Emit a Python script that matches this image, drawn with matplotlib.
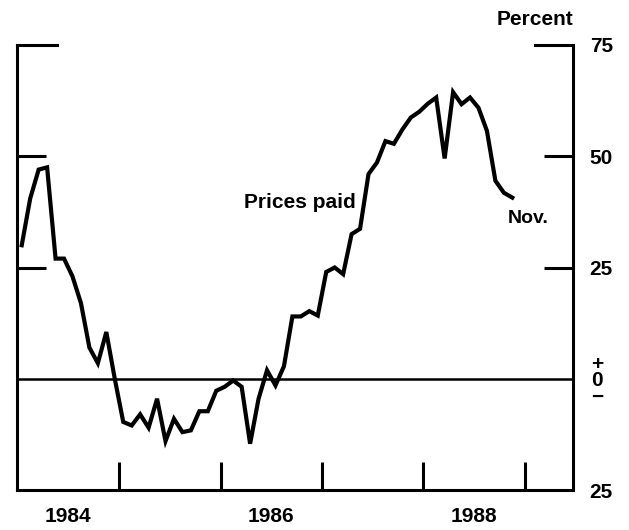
"""
Prices paid index, monthly 1984 - Nov. 1988 (percent).
Recreated as a single line chart with a right-hand percent axis.
"""

import matplotlib
matplotlib.use("Agg")
import matplotlib.pyplot as plt
import matplotlib.transforms as mtransforms

plt.rcParams["font.family"] = ["Liberation Sans", "DejaVu Sans"]
plt.rcParams["font.weight"] = "bold"

# Monthly values, Jan 1984 .. Nov 1988
start_year = 1984
prices_paid = [
    30, 40.5, 47, 47.5, 27, 27, 23, 17, 7, 3.5, 10.5, 0,            # 1984
    -9.7, -10.5, -8, -11, -4.5, -14, -9, -12, -11.6, -7.3, -7.3, -2.7,  # 1985
    -1.8, -0.4, -1.8, -14.6, -4.5, 1.9, -1.5, 2.8, 14, 14, 15.2, 14.2,  # 1986
    24, 25, 23.5, 32.5, 33.7, 46, 48.6, 53.4, 52.8, 56, 58.7, 60,       # 1987
    61.8, 63.2, 49.5, 64.4, 61.7, 63.2, 60.9, 55.7, 44.5, 41.8, 40.7,   # 1988
]
year_ticks = [1985, 1986, 1987, 1988, 1989]
year_labels = ["1984", "1986", "1988"]
y_ticks = [-25, 0, 25, 50, 75]
y_labels = ["25", "", "25", "50", "75"]

FS = 15
LW_SPINE = 2.2

months = [start_year + (i + 0.5) / 12 for i in range(len(prices_paid))]

fig = plt.figure(figsize=(6.29, 5.30), dpi=100)
ax = fig.add_axes([17 / 629, 1 - 490 / 530, 556 / 629, 445 / 530])

ax.plot(months, prices_paid, color="black", lw=3.0, solid_joinstyle="miter")
ax.axhline(0, color="black", lw=1.8)

ax.set_xlim(1983.995, 1989.473)
ax.set_ylim(-25, 75)

# frame: no top spine, the 75 marks stand in for it
ax.spines["top"].set_visible(False)
for side in ["left", "right", "bottom"]:
    ax.spines[side].set_linewidth(LW_SPINE)
ax.axhline(75, xmin=0, xmax=0.072, color="black", lw=LW_SPINE, clip_on=False)
ax.axhline(75, xmin=1 - 0.068, xmax=1, color="black", lw=LW_SPINE, clip_on=False)

# x axis: year boundaries as ticks, labels centred on the years
ax.set_xticks(year_ticks)
ax.set_xticklabels([])
ax.tick_params(axis="x", which="major", direction="in", length=20, width=LW_SPINE)
ax.set_xticks([int(y) + 0.5 for y in year_labels], minor=True)
ax.set_xticklabels(year_labels, minor=True, fontsize=FS, fontweight="bold")
ax.tick_params(axis="x", which="minor", length=0, pad=12)

# y axis: labels on the right, short inward marks on both sides
ax.yaxis.tick_right()
ax.yaxis.remove_overlapping_locs = False
ax.set_yticks(y_ticks)
ax.set_yticklabels(y_labels, fontsize=FS, fontweight="bold")
ax.tick_params(axis="y", which="major", length=0, pad=12)
ax.set_yticks([25, 50], minor=True)
ax.tick_params(axis="y", which="minor", direction="in", length=21, width=LW_SPINE,
               left=True, right=True)

trans = mtransforms.blended_transform_factory(ax.transAxes, ax.transData)
ax.text(1 + 24 / 556, -0.5, "+\n0\n\u2212", transform=trans, ha="center", va="center",
        fontsize=FS, fontweight="bold", linespacing=0.8)

ax.text(1.0, 1.058, "Percent", transform=ax.transAxes, ha="right", va="center",
        fontsize=FS, fontweight="bold")
ax.text(1987.335, 39.7, "Prices paid", ha="right", va="center", fontsize=FS, fontweight="bold")
ax.text(1988.83, 35.9, "Nov.", ha="left", va="center", fontsize=FS - 1, fontweight="bold")

fig.savefig("out.png", dpi=100)
